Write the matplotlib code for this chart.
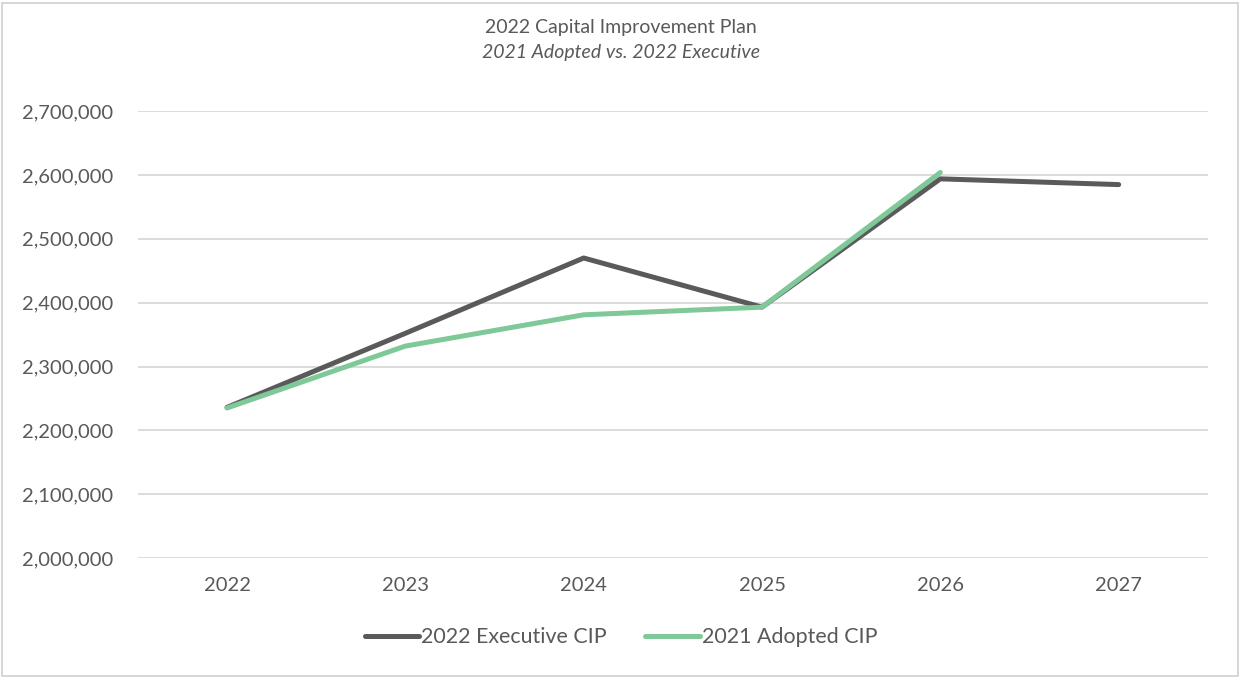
import matplotlib.pyplot as plt
from matplotlib.ticker import FuncFormatter
from matplotlib.patches import Rectangle

plt.rcParams['font.family'] = ['Lato', 'DejaVu Sans']

years = ['2022', '2023', '2024', '2025', '2026', '2027']
executive = [2236000, 2352000, 2470000, 2393000, 2594000, 2585000]
adopted = [2235000, 2332000, 2381000, 2393000, 2604000]

fig = plt.figure(figsize=(12.42, 6.78), dpi=100)
ax = fig.add_axes([0.111, 0.177, 0.8615, 0.659])

ax.plot(range(len(executive)), executive, color='#5a5a5a', lw=3.6,
        solid_capstyle='round', label='2022 Executive CIP')
ax.plot(range(len(adopted)), adopted, color='#7fc898', lw=3.6,
        solid_capstyle='round', label='2021 Adopted CIP')

ax.set_xlim(-0.5, len(years) - 0.5)
ax.set_ylim(2000000, 2700000)
ax.set_yticks(range(2000000, 2700001, 100000))
ax.yaxis.set_major_formatter(FuncFormatter(lambda v, p: f'{int(v):,}'))
ax.set_xticks(range(len(years)))
ax.set_xticklabels(years)
ax.grid(axis='y', color='#d9d9d9', lw=1.3)
ax.set_axisbelow(True)
for s in ax.spines.values():
    s.set_visible(False)
ax.tick_params(length=0, labelsize=14.5, colors='#595959', pad=14)
ax.tick_params(axis='y', pad=18)

fig.text(0.5, 0.960, '2022 Capital Improvement Plan', ha='center', va='center',
         fontsize=14, color='#595959')
fig.text(0.5, 0.923, '2021 Adopted vs. 2022 Executive', ha='center', va='center',
         fontsize=14, color='#595959', style='italic')

ax.legend(loc='center', bbox_to_anchor=(0.5, 0.06), bbox_transform=fig.transFigure,
          ncol=2, frameon=False, fontsize=15.4, handlelength=2.55, handletextpad=0.1,
          columnspacing=1.8, labelcolor='#595959')

fig.patches.append(Rectangle((0.002, 0.003), 0.995, 0.993, transform=fig.transFigure,
                             fill=False, edgecolor='#d0d0d0', lw=1.2))

fig.savefig('out.png', dpi=100)
